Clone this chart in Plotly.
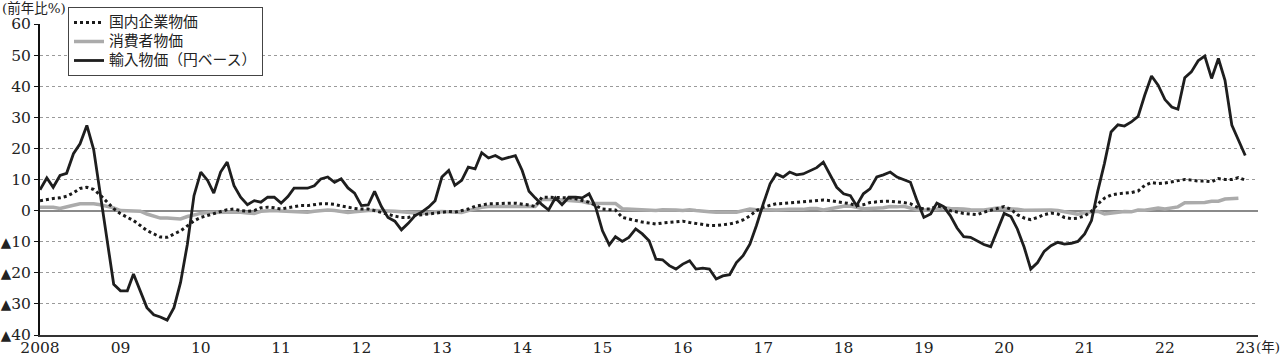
import pandas as pd
import plotly.graph_objects as go

# Monthly data, Jan 2008 onward (year-on-year %)
import_prices = [
    6.7, 10.5, 7.5, 11.3, 12.0, 18.3, 21.5, 27.4, 19.6, 5.0, -9.0, -23.7,
    -25.8, -25.8, -20.4, -26.0, -31.2, -33.5, -34.2, -35.2, -31.2, -23.1, -10.8, 4.8,
    12.4, 9.7, 5.6, 12.4, 15.6, 8.0, 4.3, 1.9, 3.2, 2.7, 4.3, 4.3,
    2.4, 4.5, 7.2, 7.2, 7.2, 8.0, 10.2, 10.8, 9.1, 10.2, 7.3, 5.6,
    1.6, 1.8, 6.2, 1.3, -2.2, -3.4, -6.2, -4.1, -1.6, -0.5, 1.1, 3.2,
    10.8, 12.9, 8.1, 9.7, 14.0, 13.4, 18.6, 16.9, 17.7, 16.5, 17.2, 17.7,
    12.9, 6.2, 4.1, 1.9, 0.2, 4.1, 1.9, 4.3, 4.3, 4.1, 5.4, 1.1,
    -6.5, -11.0, -8.4, -9.9, -8.6, -5.9, -7.5, -9.7, -15.6, -15.8, -17.7, -18.8,
    -17.2, -16.1, -18.8, -18.5, -18.8, -22.0, -21.0, -20.6, -16.7, -14.5, -10.8, -4.8,
    2.2, 8.6, 11.8, 10.8, 12.4, 11.5, 11.8, 12.7, 13.8, 15.6, 11.3, 7.5,
    5.4, 4.8, 1.6, 5.4, 7.0, 10.8, 11.5, 12.4, 10.8, 9.9, 9.1, 3.2,
    -2.2, -1.1, 2.4, 1.3, -1.6, -5.6, -8.4, -8.6, -9.7, -10.9, -11.6, -6.5,
    -0.9, -1.9, -5.9, -11.8, -18.8, -16.7, -13.1, -11.3, -10.2, -10.8, -10.5, -9.9,
    -7.5, -3.2, 6.1, 15.2, 25.3, 27.6, 27.2, 28.5, 30.3, 37.1, 43.3, 40.3,
    35.7, 33.3, 32.6, 42.7, 44.6, 48.2, 49.7, 42.5, 48.9, 41.9, 27.5, 22.7,
    17.7,
]

cgpi = [
    3.2, 3.6, 3.9, 4.1, 4.6, 5.7, 7.1, 7.5, 6.8, 5.0, 2.8, 0.6,
    -1.0, -2.3, -3.2, -4.8, -6.4, -7.5, -8.5, -8.6, -7.6, -6.5, -4.9, -3.3,
    -2.2, -1.6, -1.1, -0.3, 0.3, 0.5, 0.0, -0.2, 0.0, 0.9, 1.1, 0.9,
    0.5, 0.9, 1.3, 1.6, 1.6, 1.9, 2.2, 2.2, 2.0, 1.5, 1.0, 0.7,
    0.5, 0.5, 0.0, -0.6, -1.4, -1.8, -2.2, -2.2, -1.6, -1.3, -1.1, -0.9,
    -0.5, -0.3, -0.5, -0.1, 0.5, 1.4, 1.9, 2.2, 2.2, 2.4, 2.4, 2.4,
    2.2, 1.8, 1.3, 4.3, 4.3, 4.3, 4.1, 4.1, 3.8, 3.2, 2.7, 1.6,
    0.5, 0.3, 0.2, -2.2, -2.8, -3.2, -3.7, -4.1, -4.3, -4.0, -3.8, -3.5,
    -3.4, -3.8, -4.1, -4.5, -4.8, -4.8, -4.6, -4.3, -3.8, -3.0, -1.7, 0.0,
    1.1, 1.6, 2.2, 2.3, 2.5, 2.6, 2.8, 2.9, 3.2, 3.4, 3.2, 2.9,
    2.5, 2.2, 1.6, 1.9, 2.6, 2.9, 3.0, 3.0, 2.9, 2.6, 2.2, 1.1,
    0.5, 0.5, 1.5, 1.1, 0.0, -0.5, -0.9, -1.1, -1.3, -0.5, 0.1, 0.6,
    1.3, 0.4, -1.3, -2.4, -2.9, -2.2, -1.3, -0.8, -1.1, -2.2, -2.6, -2.4,
    -1.7, -0.2, 2.1, 4.0, 5.0, 5.4, 5.6, 5.8, 6.3, 8.1, 9.0, 8.7,
    8.9, 9.2, 9.5, 10.0, 9.8, 9.5, 9.5, 9.3, 10.3, 10.0, 10.0, 10.6,
    9.8,
]

cpi = [
    1.1, 1.2, 1.1, 0.7, 1.3, 1.7, 2.2, 2.2, 2.2, 1.9, 1.3, 0.9,
    0.0, 0.0, -0.1, -0.2, -1.1, -1.9, -2.4, -2.4, -2.5, -2.7, -1.9, -1.3,
    -0.9, -0.6, -0.5, -0.5, -0.5, -0.5, -0.5, -0.8, -0.9, -0.2, 0.0, 0.0,
    -0.1, -0.2, -0.3, -0.4, -0.5, -0.2, 0.0, 0.2, 0.0, -0.2, -0.6, -0.4,
    -0.1, 0.0, 0.0, 0.0, -0.1, -0.2, -0.4, -0.6, -0.9, -0.9, -0.8, -0.4,
    -0.3, -0.4, -0.5, -0.6, 0.0, 0.5, 1.1, 1.3, 1.3, 1.3, 1.3, 1.3,
    1.1, 1.1, 1.3, 3.6, 3.7, 3.6, 3.4, 3.3, 3.2, 2.9, 2.4, 2.4,
    2.4, 2.2, 2.3, 0.6, 0.5, 0.4, 0.2, 0.2, 0.0, 0.3, 0.3, 0.2,
    0.0, 0.3, 0.0, -0.3, -0.4, -0.5, -0.4, -0.5, -0.5, 0.1, 0.5, 0.3,
    0.4, 0.3, 0.2, 0.4, 0.4, 0.4, 0.4, 0.7, 0.7, 0.2, 0.6, 1.0,
    1.4, 1.5, 1.1, 0.6, 0.7, 0.7, 0.9, 1.3, 1.2, 1.4, 0.8, 0.3,
    0.2, 0.2, 0.5, 0.9, 0.7, 0.7, 0.5, 0.3, 0.2, 0.2, 0.5, 0.8,
    0.7, 0.4, 0.4, 0.1, 0.1, 0.1, 0.3, 0.2, 0.0, -0.4, -0.9, -1.2,
    -0.6, -0.4, -0.2, -1.1, -0.8, -0.5, -0.3, -0.4, 0.2, 0.1, 0.6, 0.8,
    0.5, 0.9, 1.2, 2.5, 2.5, 2.4, 2.6, 3.0, 3.0, 3.7, 3.8, 4.0,
]

series_names = ["国内企業物価", "消費者物価", "輸入物価（円ベース）"]
year_ticks = list(range(2008, 2024))
year_labels = ["2008", "09", "10", "11", "12", "13", "14", "15",
               "16", "17", "18", "19", "20", "21", "22", "23"]
y_ticks = [60, 50, 40, 30, 20, 10, 0, -10, -20, -30, -40]
y_labels = ["60", "50", "40", "30", "20", "10", "0", "▲10", "▲20", "▲30", "▲40"]

TRI = "<span style='font-size:13.5px'>▲</span>"
y_ticktext = [TRI + s[1:] if s.startswith("▲") else s for s in y_labels]

dates_imp = pd.date_range("2008-01-01", periods=len(import_prices), freq="MS")
dates_cgpi = pd.date_range("2008-01-01", periods=len(cgpi), freq="MS")
dates_cpi = pd.date_range("2008-01-01", periods=len(cpi), freq="MS")

LEG_TXT = "<span style='font-size:14.8px'>{}</span>"

fig = go.Figure()
fig.add_trace(go.Scatter(x=dates_cpi, y=cpi, mode="lines", name=LEG_TXT.format(series_names[1]),
                         line=dict(color="#ababab", width=3.5), legendrank=2))
fig.add_trace(go.Scatter(x=dates_cgpi, y=cgpi, mode="lines", name=LEG_TXT.format(series_names[0]),
                         line=dict(color="#1a1a1a", width=3, dash="3px,3px"), legendrank=1))
fig.add_trace(go.Scatter(x=dates_imp, y=import_prices, mode="lines", name=LEG_TXT.format(series_names[2]),
                         line=dict(color="#1e1e1e", width=2.8), legendrank=3))

L, R, T, B = 40, 22, 24, 21
W, H = 1280, 356
pw = W - L - R
ph = H - T - B

def px_x(p):
    return (p - L) / pw

def px_y(p):
    return (H - B - p) / ph

fig.update_layout(
    width=W, height=H,
    margin=dict(l=L, r=R, t=T, b=B, pad=0, autoexpand=False),
    paper_bgcolor="white", plot_bgcolor="white",
    font=dict(family="DejaVu Serif, Noto Sans CJK JP", size=16, color="#222"),
    showlegend=True,
    legend=dict(
        x=px_x(68), y=px_y(7), xanchor="left", yanchor="top",
        bgcolor="white", bordercolor="#444", borderwidth=1,
        font=dict(family="DejaVu Serif, Noto Sans CJK JP", size=12, color="#222"),
        traceorder="normal", itemwidth=30, tracegroupgap=0,
    ),
    xaxis=dict(
        type="date",
        range=["2008-01-01", "2023-02-28"],
        tickvals=[f"{y}-01-01" for y in year_ticks],
        ticktext=year_labels,
        showgrid=False, zeroline=False,
        showline=True, linecolor="#333", linewidth=2,
        ticks="", automargin=False, ticklabelstandoff=-3,
        tickfont=dict(family="DejaVu Serif", size=15.5, color="#222"),
    ),
    yaxis=dict(
        range=[-40, 60],
        tickvals=y_ticks, ticktext=y_ticktext,
        showgrid=True, gridcolor="#9a9a9a", gridwidth=1, griddash="dot",
        zeroline=True, zerolinecolor="#8a8a8a", zerolinewidth=1.5,
        showline=True, linecolor="#111", linewidth=2,
        ticks="outside", ticklen=4, tickcolor="#111", tickwidth=1,
        automargin=False,
        tickfont=dict(family="DejaVu Serif, DejaVu Sans", size=15.5, color="#222"),
    ),
    annotations=[
        dict(text="(前年比%)", xref="paper", yref="paper",
             x=px_x(0), y=px_y(8), xanchor="left", yanchor="middle",
             showarrow=False,
             font=dict(family="DejaVu Serif, Noto Sans CJK JP", size=13.5, color="#222")),
        dict(text="(年)", xref="paper", yref="paper",
             x=px_x(1254), y=px_y(347), xanchor="left", yanchor="middle",
             showarrow=False,
             font=dict(family="DejaVu Serif, Noto Sans CJK JP", size=13.5, color="#222")),
    ],
)

fig.write_html(
    "out.html",
    config={"displayModeBar": False},
    post_script="document.body.style.margin='0';document.documentElement.style.overflow='hidden';document.body.style.overflow='hidden';",
)
